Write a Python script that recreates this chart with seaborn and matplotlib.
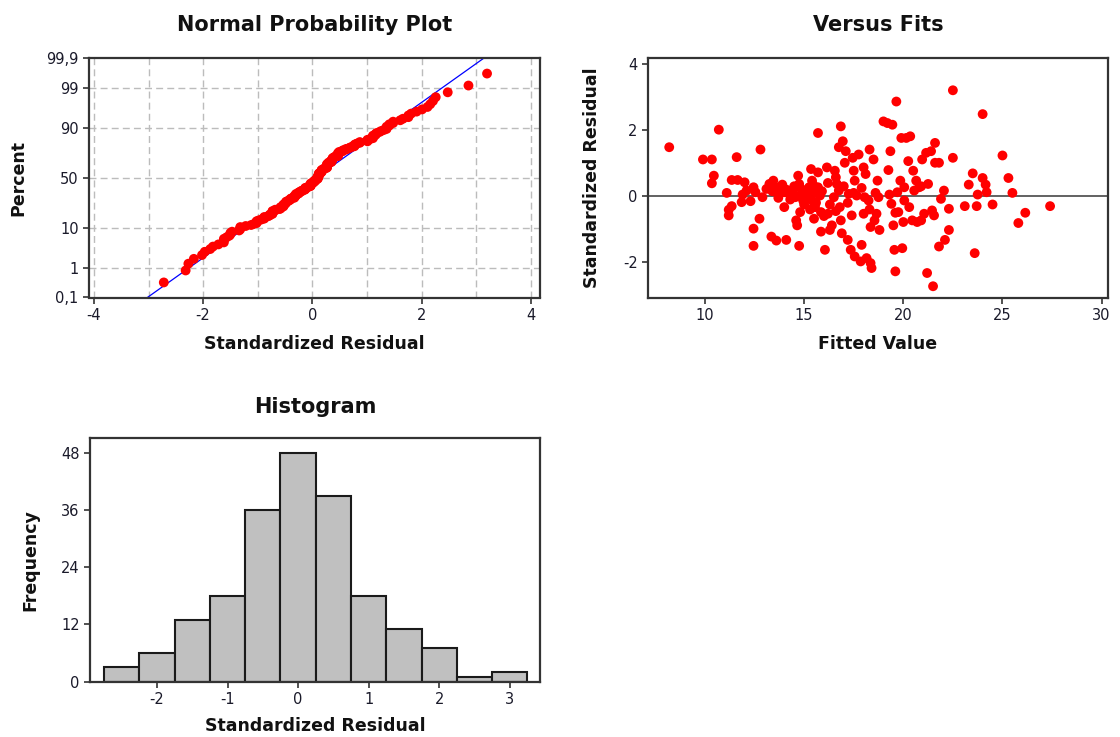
import matplotlib
matplotlib.use("Agg")
import matplotlib.pyplot as plt
import seaborn as sns
import numpy as np
import pandas as pd
from statistics import NormalDist

# Residual diagnostics: fitted value and standardized residual for each observation
fitted_values = [
    8.2, 9.9, 10.35, 10.7, 10.45, 10.35,
    11.1, 11.2, 11.2, 11.35, 11.35, 11.6, 11.65, 11.85, 11.9, 12.0, 12.1, 12.45,
    12.55, 12.45, 12.45, 12.75, 12.8, 12.9, 12.3,
    13.1, 13.25, 13.45, 13.55, 13.65, 13.35, 13.6, 13.8, 14.0, 14.0, 14.1, 14.25,
    14.4, 14.55, 14.6, 14.7, 14.75, 14.6, 14.65, 14.8, 14.75, 14.85, 14.95,
    13.4, 13.7, 13.9, 14.1, 14.3, 14.5, 14.6, 14.9,
    15.05, 15.15, 15.25, 15.35, 15.4, 15.4, 15.5, 15.55, 15.7, 15.7, 15.7, 15.8,
    15.85, 15.85, 16.05, 16.15, 16.2, 16.3, 16.4, 16.5, 16.55, 16.6, 16.65, 16.75,
    16.75, 16.85, 16.95, 16.8, 16.85, 16.9,
    15.0, 15.2, 15.3, 15.45, 15.6, 15.6, 15.9, 16.0, 16.2, 16.3, 16.6,
    17.05, 17.1, 17.2, 17.25, 17.35, 17.4, 17.45, 17.5, 17.55, 17.55, 17.65, 17.75,
    17.85, 17.9, 18.0, 18.0, 18.05, 18.1, 18.15, 18.25, 18.3, 18.35, 18.35, 18.4,
    18.5, 18.55, 18.65, 18.7, 18.75, 18.8,
    17.0, 17.2, 17.5, 17.9, 18.3, 18.6,
    19.0, 19.2, 19.25, 19.35, 19.45, 19.4, 19.5, 19.55, 19.6, 19.65, 19.7, 19.75,
    19.85, 19.9, 19.95, 20.0, 20.05, 20.05, 20.15, 20.25, 20.3, 20.35, 20.45, 20.5,
    20.55, 20.65, 20.7, 20.8,
    19.3, 19.6, 20.9,
    20.9, 20.95, 21.05, 21.15, 21.2, 21.25, 21.4, 21.45, 21.5, 21.55, 21.6, 21.6,
    21.8, 21.8, 21.9, 22.05, 22.1, 22.3, 22.3, 22.5, 22.5,
    23.1, 23.3, 23.5, 23.6, 23.7, 23.75, 24.0, 24.0, 24.15, 24.2, 24.5, 25.0,
    25.3, 25.5, 25.8, 26.15, 27.4,
]
std_residuals = [
    1.48, 1.11, 1.11, 2.01, 0.62, 0.39,
    0.10, -0.41, -0.58, -0.30, 0.49, 1.18, 0.49, -0.18, 0.05, 0.42, 0.17, 0.27,
    0.12, -0.98, -1.50, -0.68, 1.41, -0.03, -0.15,
    0.22, 0.37, 0.47, 0.27, 0.12, -1.22, -1.34, 0.27, 0.12, -0.33, -1.32, 0.07,
    0.17, -0.03, 0.27, 0.62, 0.37, -0.73, -0.88, -0.48, -1.50, 0.02, -0.13,
    0.15, -0.05, 0.35, 0.20, -0.10, 0.30, 0.00, 0.20,
    0.12, -0.03, 0.27, 0.82, 0.47, -0.13, -0.68, -0.33, 1.91, 0.72, 0.27, 0.02,
    -1.07, -0.48, -1.62, 0.87, -0.53, -1.02, -0.88, -0.03, 0.77, 0.57, 0.37, 0.17,
    1.48, 2.11, 1.66, -0.33, -0.73, -1.12,
    -0.25, 0.10, -0.40, 0.35, -0.20, 0.10, 0.15, -0.60, 0.40, -0.25, -0.45,
    1.01, 1.36, -1.32, 0.07, -1.62, -0.58, 1.16, 0.77, 0.47, -1.82, 0.02, 1.26,
    -1.97, -1.47, -0.53, 0.87, -0.03, 0.67, -1.87, -0.13, 1.41, -0.93, -2.02, -2.17,
    1.11, -0.73, -0.53, 0.47, -0.03, -1.02,
    0.30, -0.20, 0.10, 0.25, -0.40, 0.10,
    2.26, 2.21, 0.79, 1.36, 2.16, -0.23, -0.88, -1.62, -2.27, 2.86, 0.12, -0.48,
    0.47, 1.76, -1.57, -0.78, 0.27, -0.13, 1.76, 1.06, -0.33, 1.81, -0.73, 0.77,
    0.17, 0.47, -0.78, 0.27,
    0.05, -0.50, 0.30,
    -0.73, 1.11, -0.53, 1.31, -2.32, 0.37, 1.36, -0.43, -2.72, -0.58, 1.61, 1.01,
    1.01, -1.52, -0.08, 0.17, -1.32, -0.38, -1.02, 3.20, 1.16,
    -0.30, 0.35, 0.69, -1.72, -0.30, 0.05, 2.48, 0.55, 0.35, 0.12, -0.25, 1.23,
    0.55, 0.10, -0.81, -0.50, -0.30,
]

# Histogram of standardized residuals (bin centres and frequencies)
hist_bin_centers = [-2.5, -2.0, -1.5, -1.0, -0.5, 0.0, 0.5, 1.0, 1.5, 2.0, 2.5, 3.0]
hist_counts = [3, 6, 13, 18, 36, 48, 39, 18, 11, 7, 1, 2]

# Probability-scale ticks for the normal plot
prob_tick_pct = [0.1, 1, 10, 50, 90, 99, 99.9]
prob_tick_labels = ["0,1", "1", "10", "50", "90", "99", "99,9"]

sns.set_theme(style="white")
plt.rcParams["font.family"] = ["DejaVu Sans"]
plt.rcParams["axes.unicode_minus"] = False

TEXT = "#111111"
TICK_TEXT = "#1a1a2a"
RED = "#ff0000"
SPINE = "#333333"

fig = plt.figure(figsize=(11.2, 7.37), dpi=100)
fig.patch.set_facecolor("white")

W, H = 1120.0, 737.0


def rect(left, right, top, bottom):
    return [left / W, 1 - bottom / H, (right - left) / W, (bottom - top) / H]


ax1 = fig.add_axes(rect(89, 540, 58.5, 297.5))
ax2 = fig.add_axes(rect(648, 1108, 58.5, 297.5))
ax3 = fig.add_axes(rect(90, 540, 438.3, 681.7))


def style_axes(ax):
    ax.set_facecolor("white")
    for sp in ax.spines.values():
        sp.set_visible(True)
        sp.set_color(SPINE)
        sp.set_linewidth(1.6)
    ax.tick_params(axis="both", which="both", direction="out", length=4.5,
                   width=1.2, color=SPINE, labelsize=10.5, labelcolor=TICK_TEXT,
                   bottom=True, left=True, top=False, right=False, pad=3)
    ax.grid(False)


def add_title(ax, text, y):
    ax.text(0.5, y, text, transform=ax.transAxes, ha="center", va="center",
            fontsize=15, fontweight="bold", color=TEXT)


def add_labels(ax, xlabel, ylabel, xpos, ypos):
    ax.set_xlabel(xlabel, fontsize=12.5, fontweight="bold", color=TEXT, va="center")
    ax.set_ylabel(ylabel, fontsize=12.5, fontweight="bold", color=TEXT, va="center")
    ax.xaxis.set_label_coords(0.5, xpos)
    ax.yaxis.set_label_coords(ypos, 0.5)


# --- Normal probability plot ---
nd = NormalDist()
res_sorted = np.sort(np.array(std_residuals))
n = len(res_sorted)
ranks = np.arange(1, n + 1)
probs = (ranks - 0.3) / (n + 0.4)
prob_df = pd.DataFrame({"residual": res_sorted,
                        "z": [nd.inv_cdf(p) for p in probs]})

z_lo = nd.inv_cdf(prob_tick_pct[0] / 100)
z_hi = nd.inv_cdf(prob_tick_pct[-1] / 100)
mu = float(np.mean(res_sorted))
sd = float(np.std(res_sorted, ddof=1))
line_df = pd.DataFrame({"z": [z_lo, z_hi]})
line_df["x"] = mu + sd * line_df["z"]

style_axes(ax1)
tick_z = [nd.inv_cdf(p / 100) for p in prob_tick_pct]
for xv in range(-4, 5):
    ax1.axvline(xv, color="#bcbcbc", lw=1.0, ls=(0, (5, 3)), zorder=0)
for zv in tick_z[1:-1]:
    ax1.axhline(zv, color="#bcbcbc", lw=1.0, ls=(0, (5, 3)), zorder=0)

sns.lineplot(data=line_df, x="x", y="z", ax=ax1, color="#0000ff", lw=0.9,
             sort=False, zorder=2)
sns.scatterplot(data=prob_df, x="residual", y="z", ax=ax1, color=RED, s=50,
                edgecolor="none", linewidth=0, zorder=3)
ax1.set_xlim(-4.09, 4.17)
ax1.set_ylim(z_lo, z_hi)
ax1.set_xticks([-4, -2, 0, 2, 4])
ax1.set_yticks(tick_z)
ax1.set_yticklabels(prob_tick_labels)
add_title(ax1, "Normal Probability Plot", 1 + (58.5 - 25) / 239)
add_labels(ax1, "Standardized Residual", "Percent", -46.5 / 239, -71 / 451)

# --- Residuals versus fitted values ---
fits_df = pd.DataFrame({"fitted": fitted_values, "residual": std_residuals})
style_axes(ax2)
ax2.axhline(0, color="#555555", lw=1.3, zorder=1)
sns.scatterplot(data=fits_df, x="fitted", y="residual", ax=ax2, color=RED, s=50,
                edgecolor="none", linewidth=0, zorder=3)
ax2.set_xlim(7.13, 30.32)
ax2.set_ylim(-3.06, 4.16)
ax2.set_xticks([10, 15, 20, 25, 30])
ax2.set_yticks([-2, 0, 2, 4])
add_title(ax2, "Versus Fits", 1 + (58.5 - 25) / 239)
add_labels(ax2, "Fitted Value", "Standardized Residual", -46.5 / 239, -56 / 460)

# --- Histogram of residuals ---
half = (hist_bin_centers[1] - hist_bin_centers[0]) / 2
edges = [c - half for c in hist_bin_centers] + [hist_bin_centers[-1] + half]
style_axes(ax3)
sns.histplot(x=hist_bin_centers, weights=hist_counts, bins=edges, ax=ax3,
             color="#c0c0c0", edgecolor="#1a1a1a", linewidth=1.5, alpha=1.0)
ax3.set_xlim(-2.95, 3.43)
ax3.set_ylim(0, 51)
ax3.set_xticks([-2, -1, 0, 1, 2, 3])
ax3.set_yticks([0, 12, 24, 36, 48])
add_title(ax3, "Histogram", 1 + (438.3 - 407) / 243.4)
add_labels(ax3, "Standardized Residual", "Frequency", -44.3 / 243.4, -60 / 450)

fig.savefig("out.png", dpi=100, facecolor="white")
